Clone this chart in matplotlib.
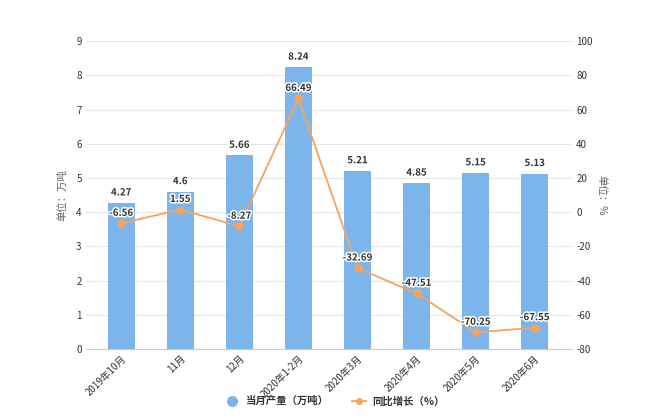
import numpy as np
import matplotlib.pyplot as plt
import matplotlib.patheffects as pe
from matplotlib.lines import Line2D

plt.rcParams['font.family'] = ['Noto Sans CJK SC', 'DejaVu Sans']
plt.rcParams['axes.unicode_minus'] = False

categories = ['2019年10月', '11月', '12月', '2020年1-2月', '2020年3月', '2020年4月', '2020年5月', '2020年6月']
output = [4.27, 4.6, 5.66, 8.24, 5.21, 4.85, 5.15, 5.13]      # 万吨
growth = [-6.56, 1.55, -8.27, 66.49, -32.69, -47.51, -70.25, -67.55]  # %

bar_color = '#7cb5ec'
line_color = '#f7a35c'
grid_color = '#e6e6e6'
text_color = '#666666'

fig = plt.figure(figsize=(6.5, 4.2), dpi=100)
ax = fig.add_axes([0.132, 0.169, 0.748, 0.733])
ax2 = ax.twinx()

x = np.arange(len(categories))
ax.bar(x, output, width=0.46, color=bar_color, zorder=2)
ax.set_ylim(0, 9)
ax.set_yticks(range(0, 10))
ax.set_xlim(-0.6, 7.63)
ax.set_xticks(x)
ax.set_xticklabels(categories, rotation=45, ha='right', rotation_mode='anchor')
ax.grid(axis='y', color=grid_color, lw=0.8, zorder=0)
ax.set_axisbelow(True)

ax2.plot(x, growth, color=line_color, lw=1.3, marker='o', ms=5, zorder=3)
ax2.set_ylim(-80, 100)
ax2.set_yticks(range(-80, 101, 20))

for a in (ax, ax2):
    for s in a.spines.values():
        s.set_visible(False)
    a.tick_params(length=0, labelsize=7, colors='#333333', pad=3)
ax.spines['bottom'].set_visible(True)
ax.spines['bottom'].set_color('#cccccc')
ax.tick_params(axis='x', labelsize=7, pad=3)

ax.set_ylabel('单位：万吨', fontsize=7.5, color=text_color, labelpad=6)
ax2.set_ylabel('单位：%', fontsize=7.5, color=text_color, rotation=270, labelpad=10)

stroke = [pe.withStroke(linewidth=2.2, foreground='white')]
for xi, v in zip(x, output):
    ax.annotate(f'{v:g}', (xi, v), xytext=(0, 4), textcoords='offset points',
                ha='center', va='bottom', fontsize=7, fontweight='bold', color='#333333',
                path_effects=stroke, zorder=5)
for xi, v in zip(x, growth):
    ax2.annotate(f'{v:g}', (xi, v), xytext=(0, 4), textcoords='offset points',
                 ha='center', va='bottom', fontsize=7, fontweight='bold', color='#333333',
                 path_effects=stroke, zorder=5)

handles = [
    Line2D([], [], marker='o', color='none', markerfacecolor=bar_color, markeredgecolor=bar_color, ms=7),
    Line2D([], [], marker='o', color=line_color, ms=4, lw=1.3),
]
fig.legend(handles, ['当月产量（万吨）', '同比增长（%）'], loc='center', bbox_to_anchor=(0.515, 0.045),
           ncol=2, frameon=False, prop={'size': 7.5, 'weight': 'bold'}, labelcolor='#333333',
           handlelength=1.4, handletextpad=0.6, columnspacing=2.2)

fig.savefig('out.png', dpi=100)
